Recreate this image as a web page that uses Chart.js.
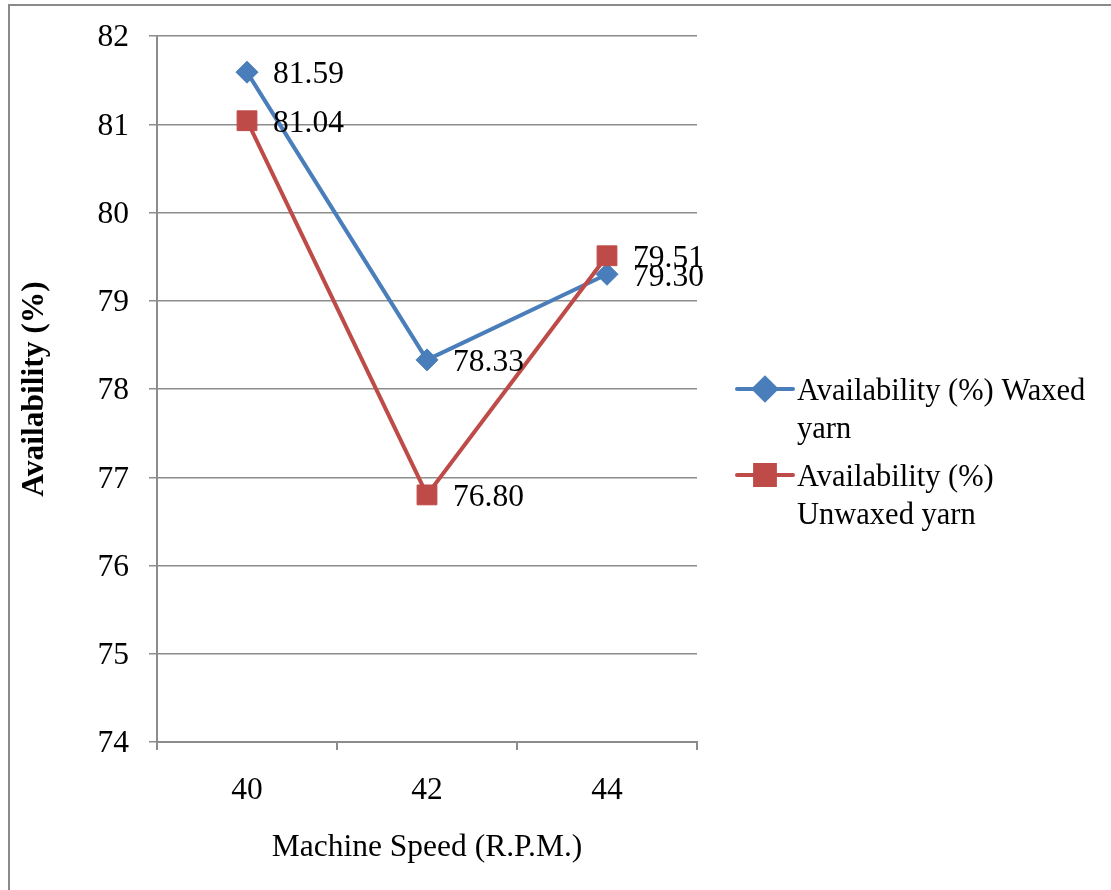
<!DOCTYPE html>
<html>
<head>
<meta charset="utf-8">
<title>Availability vs Machine Speed</title>
<script src="https://cdn.jsdelivr.net/npm/chart.js@4/dist/chart.umd.min.js"></script>
<style>
  html, body { margin: 0; padding: 0; background: #fff; }
  #wrap { position: relative; width: 1111px; height: 890px; }
</style>
</head>
<body>
<div id="wrap"><canvas id="availChart"></canvas></div>
<script>
'use strict';

// ── data ─────────────────────────────────────────────
const speeds = ['40', '42', '44'];
const waxed = [81.59, 78.33, 79.30];
const unwaxed = [81.04, 76.80, 79.51];
const yMin = 74;
const yMax = 82;

const SERIF = "'Liberation Serif','Times New Roman',serif";
const GRID = '#8c8c8c';
const FS = 31.5;

// value labels to the right of each point
const valueLabels = {
  id: 'valueLabels',
  afterDatasetsDraw(chart) {
    const ctx = chart.ctx;
    ctx.save();
    ctx.font = `${FS}px ${SERIF}`;
    ctx.fillStyle = '#000';
    ctx.textAlign = 'left';
    ctx.textBaseline = 'middle';
    chart.data.datasets.forEach((ds, i) => {
      chart.getDatasetMeta(i).data.forEach((pt, j) => {
        ctx.fillText(ds.data[j].toFixed(2), pt.x + 26, pt.y + 3);
      });
    });
    ctx.restore();
  }
};

// outer frame (left + top edges only show)
const frame = {
  id: 'frame',
  beforeDraw(chart) {
    const ctx = chart.ctx;
    ctx.save();
    ctx.fillStyle = '#fff';
    ctx.fillRect(0, 0, chart.width, chart.height);
    ctx.strokeStyle = '#8a8a8a';
    ctx.lineWidth = 2;
    ctx.beginPath();
    ctx.moveTo(9, chart.height);
    ctx.lineTo(9, 5);
    ctx.lineTo(chart.width, 5);
    ctx.stroke();
    ctx.restore();
  }
};

// right-hand legend with wrapped labels
const sideLegend = {
  id: 'sideLegend',
  afterDraw(chart, args, opts) {
    const ctx = chart.ctx;
    ctx.save();
    ctx.font = `${opts.fontSize}px ${SERIF}`;
    ctx.textBaseline = 'middle';
    ctx.textAlign = 'left';
    let y = opts.top;
    chart.data.datasets.forEach(ds => {
      // wrap words
      const words = ds.label.split(' ');
      const lines = [];
      let cur = '';
      words.forEach(w => {
        const test = cur ? cur + ' ' + w : w;
        if (cur && ctx.measureText(test).width > opts.maxWidth) {
          lines.push(cur);
          cur = w;
        } else {
          cur = test;
        }
      });
      if (cur) lines.push(cur);

      ctx.strokeStyle = ds.borderColor;
      ctx.lineWidth = ds.borderWidth;
      ctx.lineCap = 'round';
      ctx.beginPath();
      ctx.moveTo(opts.left, y);
      ctx.lineTo(opts.left + opts.lineLen, y);
      ctx.stroke();
      ctx.fillStyle = ds.backgroundColor;
      ctx.strokeStyle = ds.borderColor;
      Chart.helpers.drawPoint(ctx, {
        pointStyle: ds.pointStyle,
        radius: ds.pointRadius,
        borderWidth: 1,
        rotation: 0
      }, opts.left + opts.lineLen / 2, y);

      ctx.fillStyle = '#000';
      lines.forEach((ln, k) => {
        ctx.fillText(ln, opts.left + opts.lineLen + 4, y + 3 + k * opts.lineHeight);
      });
      y += lines.length * opts.lineHeight + opts.gap;
    });
    ctx.restore();
  }
};

Chart.defaults.font.family = SERIF;
Chart.defaults.color = '#000';

new Chart(document.getElementById('availChart'), {
  type: 'line',
  data: {
    labels: speeds,
    datasets: [
      {
        label: 'Availability (%) Waxed yarn',
        data: waxed,
        borderColor: '#4a7ebb',
        backgroundColor: '#4a7ebb',
        borderWidth: 4,
        pointStyle: 'rectRot',
        pointRadius: 11,
        pointBorderWidth: 1,
        order: 1,
        tension: 0
      },
      {
        label: 'Availability (%) Unwaxed yarn',
        data: unwaxed,
        borderColor: '#be4b48',
        backgroundColor: '#be4b48',
        borderWidth: 4,
        pointStyle: 'rect',
        pointRadius: 14,
        pointBorderWidth: 1,
        order: 0,
        tension: 0
      }
    ]
  },
  options: {
    responsive: true,
    maintainAspectRatio: false,
    animation: false,
    layout: { padding: { left: 0, top: 36, right: 414, bottom: 0 } },
    scales: {
      x: {
        offset: true,
        border: { display: true, color: GRID, width: 2 },
        grid: { offset: true, drawOnChartArea: false, drawTicks: true, tickLength: 8, color: GRID, lineWidth: 2 },
        ticks: { font: { size: FS }, padding: 22, color: '#000' },
        title: { display: true, text: 'Machine Speed (R.P.M.)', font: { size: FS }, padding: { bottom: 23 }, color: '#000' },
        afterFit(scale) { scale.height = 148; }
      },
      y: {
        min: yMin,
        max: yMax,
        border: { display: true, color: GRID, width: 2 },
        grid: { color: GRID, lineWidth: 1.5, tickLength: 8 },
        ticks: { stepSize: 1, font: { size: FS }, padding: 20, labelOffset: 2, color: '#000' },
        title: { display: true, text: 'Availability (%)', font: { size: FS, weight: 'bold' }, padding: { top: 16 }, color: '#000' },
        afterFit(scale) {
          scale.width = 157;
          scale.paddingTop = 0;
          scale.paddingBottom = 0;
        }
      }
    },
    plugins: {
      legend: { display: false },
      tooltip: { enabled: false },
      sideLegend: { left: 737, lineLen: 56, top: 389, lineHeight: 38, gap: 10, maxWidth: 305, fontSize: 30.5 }
    }
  },
  plugins: [frame, valueLabels, sideLegend]
});
</script>
</body>
</html>
